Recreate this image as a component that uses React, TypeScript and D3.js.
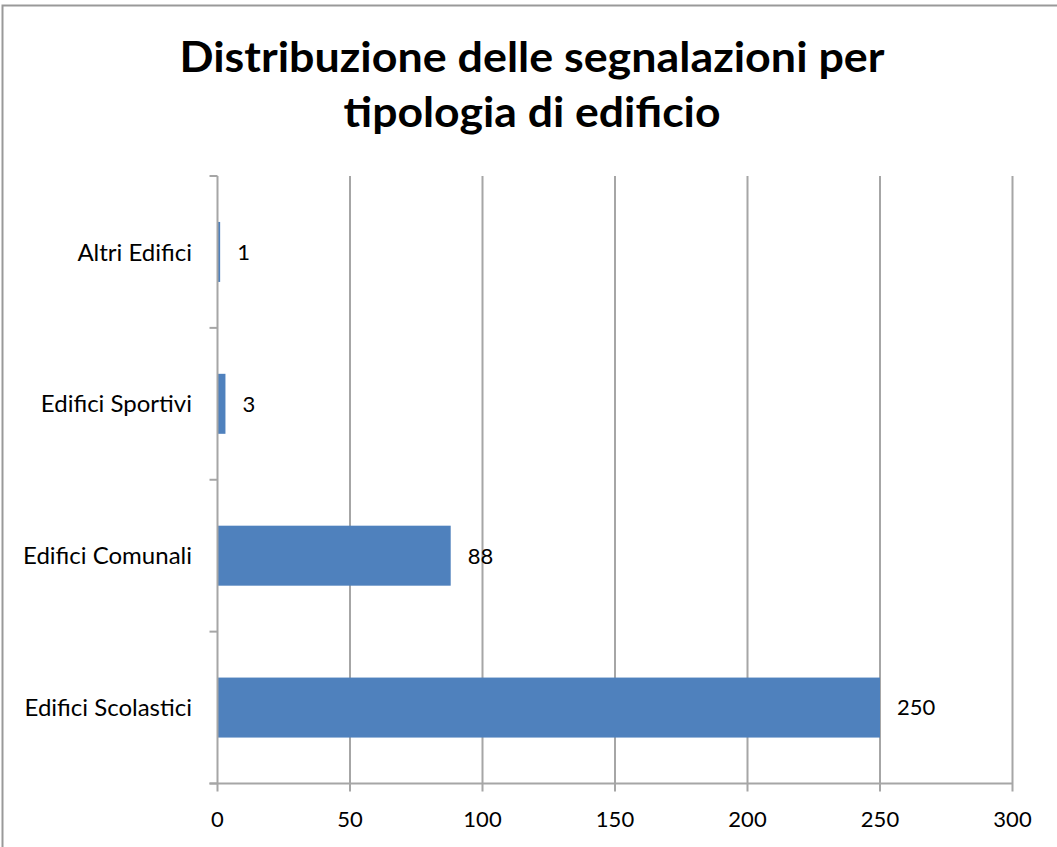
import React from "react";
import * as d3 from "d3";

const categories = ["Altri Edifici", "Edifici Sportivi", "Edifici Comunali", "Edifici Scolastici"];
const values = [1, 3, 88, 250];
const xTicks = [0, 50, 100, 150, 200, 250, 300];
const titleLines = ["Distribuzione delle segnalazioni per", "tipologia di edificio"];

const W = 1057;
const H = 847;
const FONT = "Lato, 'Open Sans', sans-serif";

export default function App() {
  const left = 217.5;
  const right = 1012.5;
  const top = 176;
  const bottom = 783.5;
  const x = d3.scaleLinear().domain([0, 300]).range([left, right]);
  const y = d3.scaleBand<string>().domain(categories).range([top, bottom]).paddingInner(0.605).paddingOuter(0.3025);
  const band = (bottom - top) / categories.length;
  const grid = "#A6A6A6";
  const titleLens = [705, 377];

  return (
    <svg width={W} height={H} style={{ position: "absolute", left: 0, top: 0 }} fontFamily={FONT}>
      <rect x={0} y={0} width={W} height={H} fill="#fff" />
      <rect x={2.5} y={5.5} width={W + 10} height={H + 10} fill="none" stroke="#999" strokeWidth={2} />
      {titleLines.map((t, i) => (
        <text key={i} x={532} y={72 + i * 55} textAnchor="middle" fontSize={42} fontWeight="bold" fill="#000"
          textLength={titleLens[i]} lengthAdjust="spacingAndGlyphs">
          {t}
        </text>
      ))}
      {xTicks.slice(1).map((t) => (
        <line key={t} x1={x(t)} x2={x(t)} y1={top} y2={bottom + 8} stroke={grid} strokeWidth={2} />
      ))}
      {categories.map((c, i) => (
        <line key={"ct" + i} x1={left - 8} x2={left} y1={top + i * band} y2={top + i * band} stroke={grid} strokeWidth={2} />
      ))}
      <line x1={left - 8} x2={left} y1={bottom} y2={bottom} stroke={grid} strokeWidth={2} />
      {categories.map((c, i) => (
        <rect key={c} x={x(0)} y={y(c)} width={x(values[i]) - x(0)} height={y.bandwidth()} fill="#4F81BD" />
      ))}
      <line x1={left} x2={left} y1={top} y2={bottom + 8} stroke={grid} strokeWidth={2} />
      <line x1={left - 8} x2={right} y1={bottom} y2={bottom} stroke={grid} strokeWidth={2} />
      {categories.map((c, i) => (
        <text key={"l" + c} x={x(values[i]) + 17} y={(y(c) as number) + y.bandwidth() / 2} dy="0.36em" fontSize={22} fill="#000">
          {values[i]}
        </text>
      ))}
      {categories.map((c) => (
        <text key={"c" + c} x={192} y={(y(c) as number) + y.bandwidth() / 2} dy="0.36em" textAnchor="end" fontSize={24} fill="#000">
          {c}
        </text>
      ))}
      {xTicks.map((t) => (
        <text key={"x" + t} x={x(t)} y={819} dy="0.36em" textAnchor="middle" fontSize={22} fill="#000">
          {t}
        </text>
      ))}
    </svg>
  );
}
